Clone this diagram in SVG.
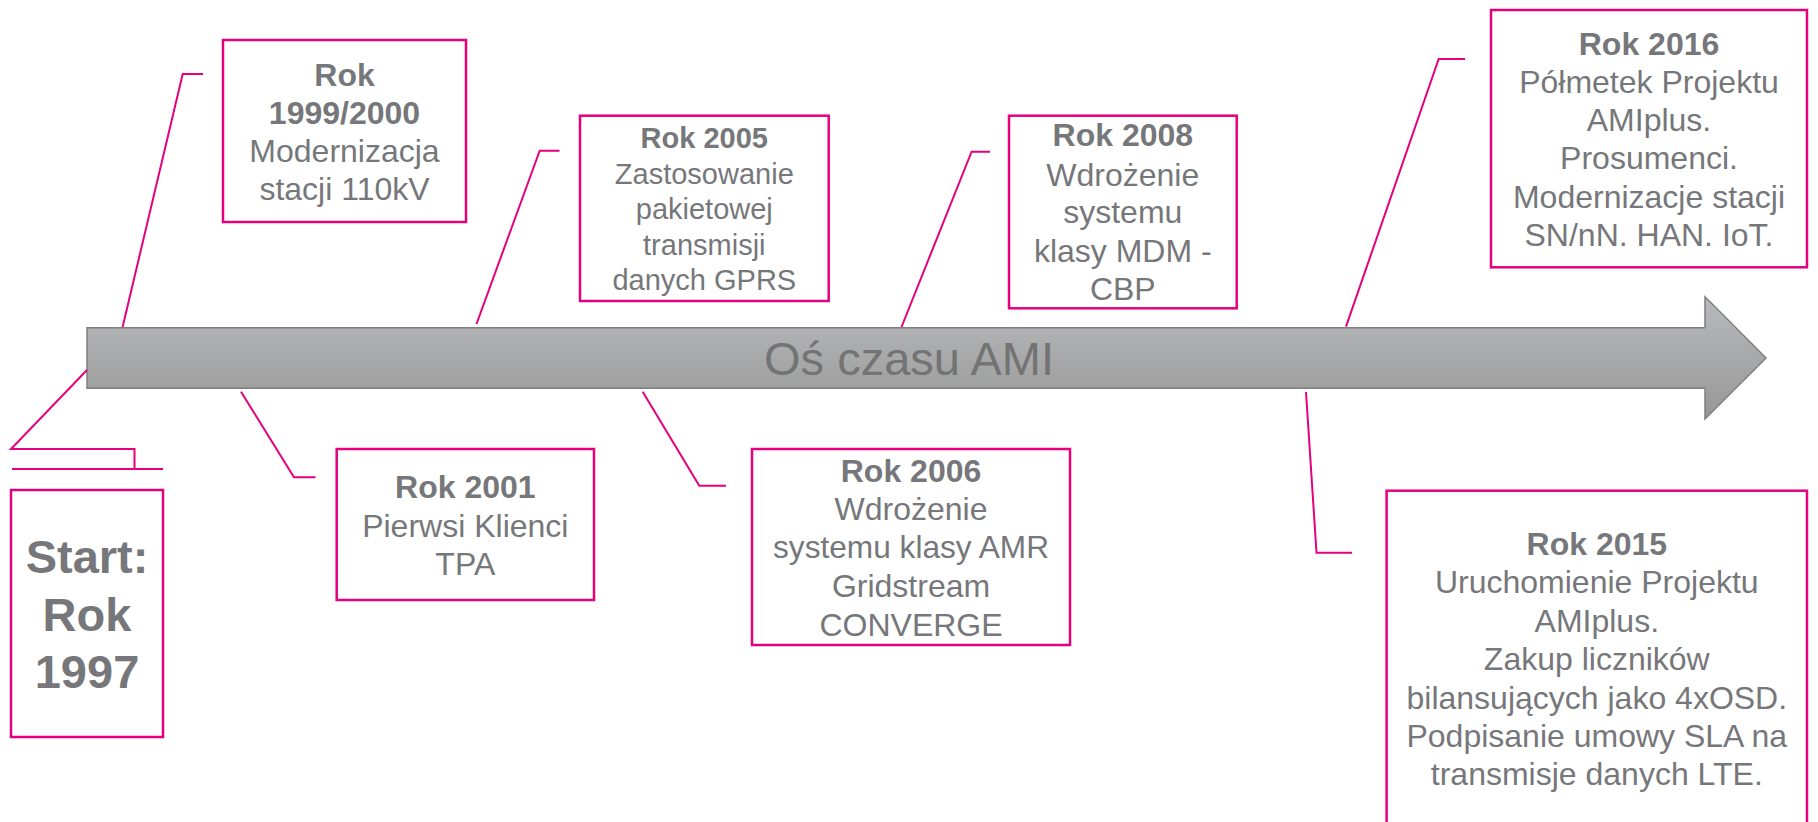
<svg xmlns="http://www.w3.org/2000/svg" width="1818" height="822" viewBox="0 0 1818 822">
  <style>
    .box { fill: #ffffff; stroke: #e6007e; stroke-width: 2.5; }
    .conn { fill: none; stroke: #e6007e; stroke-width: 2; stroke-linejoin: miter; }
    text { font-family: "Liberation Sans", Arial, sans-serif; fill: #76777a; text-anchor: middle; }
    .t32 { font-size: 32px; }
    .t29 { font-size: 29px; }
    .b { font-weight: bold; }
    .start { font-size: 47px; font-weight: bold; }
    .axis { font-size: 47px; fill: #737373; }
  </style>
  <defs>
    <linearGradient id="axisFill" x1="0" y1="0" x2="0" y2="1">
      <stop offset="0" stop-color="#b9babc"/>
      <stop offset="1" stop-color="#979797"/>
    </linearGradient>
  </defs>

  <rect width="1818" height="822" fill="#ffffff"/>

  <!-- timeline axis -->
  <g id="axis">
    <polygon points="87,327.7 1705,327.7 1705,296.7 1766,358 1705,419 1705,388.3 87,388.3" fill="url(#axisFill)" stroke="#7f7f7f" stroke-width="1.5"/>
    <text class="axis" x="909" y="375">Oś czasu AMI</text>
  </g>

  <!-- leader lines from the axis to the event boxes -->
  <g id="connectors">
    <path class="conn" d="M87,370 L11,449 L134.5,449 L134.5,469"/>
    <path class="conn" d="M12,469 L163,469"/>
    <path class="conn" d="M122.6,327 L182.7,74 L203,74"/>
    <path class="conn" d="M241,391.7 L294,477.3 L315.5,477.3"/>
    <path class="conn" d="M476.5,324 L539.7,150.7 L559.5,150.7"/>
    <path class="conn" d="M642.7,391.7 L699.3,485.7 L726,485.7"/>
    <path class="conn" d="M901.5,327 L971.6,151.7 L990,151.7"/>
    <path class="conn" d="M1306,392 L1316.5,552.7 L1352,552.7"/>
    <path class="conn" d="M1346,326.7 L1438.7,59 L1465,59"/>
  </g>

  <g id="start-1997">
    <rect class="box" x="11" y="490" width="152" height="247"/>
    <text class="start" x="87" y="573">Start:</text>
    <text class="start" x="87" y="631">Rok</text>
    <text class="start" x="87" y="688">1997</text>
  </g>

  <g id="rok-1999-2000">
    <rect class="box" x="223" y="40" width="243" height="182"/>
    <text class="t32 b" x="344.5" y="86">Rok</text>
    <text class="t32 b" x="344.5" y="124">1999/2000</text>
    <text class="t32" x="344.5" y="162">Modernizacja</text>
    <text class="t32" x="344.5" y="200">stacji 110kV</text>
  </g>

  <g id="rok-2001">
    <rect class="box" x="336.7" y="449" width="257.3" height="151"/>
    <text class="t32 b" x="465.3" y="498">Rok 2001</text>
    <text class="t32" x="465.3" y="536.7">Pierwsi Klienci</text>
    <text class="t32" x="465.3" y="575">TPA</text>
  </g>

  <g id="rok-2005">
    <rect class="box" x="580" y="115.7" width="248.7" height="185.3"/>
    <text class="t29 b" x="704.3" y="148.3">Rok 2005</text>
    <text class="t29" x="704.3" y="183.7">Zastosowanie</text>
    <text class="t29" x="704.3" y="219.1">pakietowej</text>
    <text class="t29" x="704.3" y="254.5">transmisji</text>
    <text class="t29" x="704.3" y="289.9">danych GPRS</text>
  </g>

  <g id="rok-2006">
    <rect class="box" x="752" y="449" width="318" height="196"/>
    <text class="t32 b" x="911" y="481.7">Rok 2006</text>
    <text class="t32" x="911" y="520">Wdrożenie</text>
    <text class="t32" x="911" y="558.3" textLength="276" lengthAdjust="spacingAndGlyphs">systemu klasy AMR</text>
    <text class="t32" x="911" y="597">Gridstream</text>
    <text class="t32" x="911" y="635.5">CONVERGE</text>
  </g>

  <g id="rok-2008">
    <rect class="box" x="1009" y="115.7" width="227.7" height="192.6"/>
    <text class="t32 b" x="1122.8" y="146">Rok 2008</text>
    <text class="t32" x="1122.8" y="185.5">Wdrożenie</text>
    <text class="t32" x="1122.8" y="223.3">systemu</text>
    <text class="t32" x="1122.8" y="261.7">klasy MDM -</text>
    <text class="t32" x="1122.8" y="299.5">CBP</text>
  </g>

  <g id="rok-2015">
    <rect class="box" x="1386.6" y="490.7" width="420.4" height="360"/>
    <text class="t32 b" x="1596.8" y="555">Rok 2015</text>
    <text class="t32" x="1596.8" y="593.3">Uruchomienie Projektu</text>
    <text class="t32" x="1596.8" y="631.5">AMIplus.</text>
    <text class="t32" x="1596.8" y="670">Zakup liczników</text>
    <text class="t32" x="1596.8" y="708.5">bilansujących jako 4xOSD.</text>
    <text class="t32" x="1596.8" y="746.7">Podpisanie umowy SLA na</text>
    <text class="t32" x="1596.8" y="785">transmisje danych LTE.</text>
  </g>

  <g id="rok-2016">
    <rect class="box" x="1491" y="10" width="316" height="257.3"/>
    <text class="t32 b" x="1649" y="55">Rok 2016</text>
    <text class="t32" x="1649" y="93">Półmetek Projektu</text>
    <text class="t32" x="1649" y="131">AMIplus.</text>
    <text class="t32" x="1649" y="169.3">Prosumenci.</text>
    <text class="t32" x="1649" y="207.5">Modernizacje stacji</text>
    <text class="t32" x="1649" y="246">SN/nN. HAN. IoT.</text>
  </g>
</svg>
